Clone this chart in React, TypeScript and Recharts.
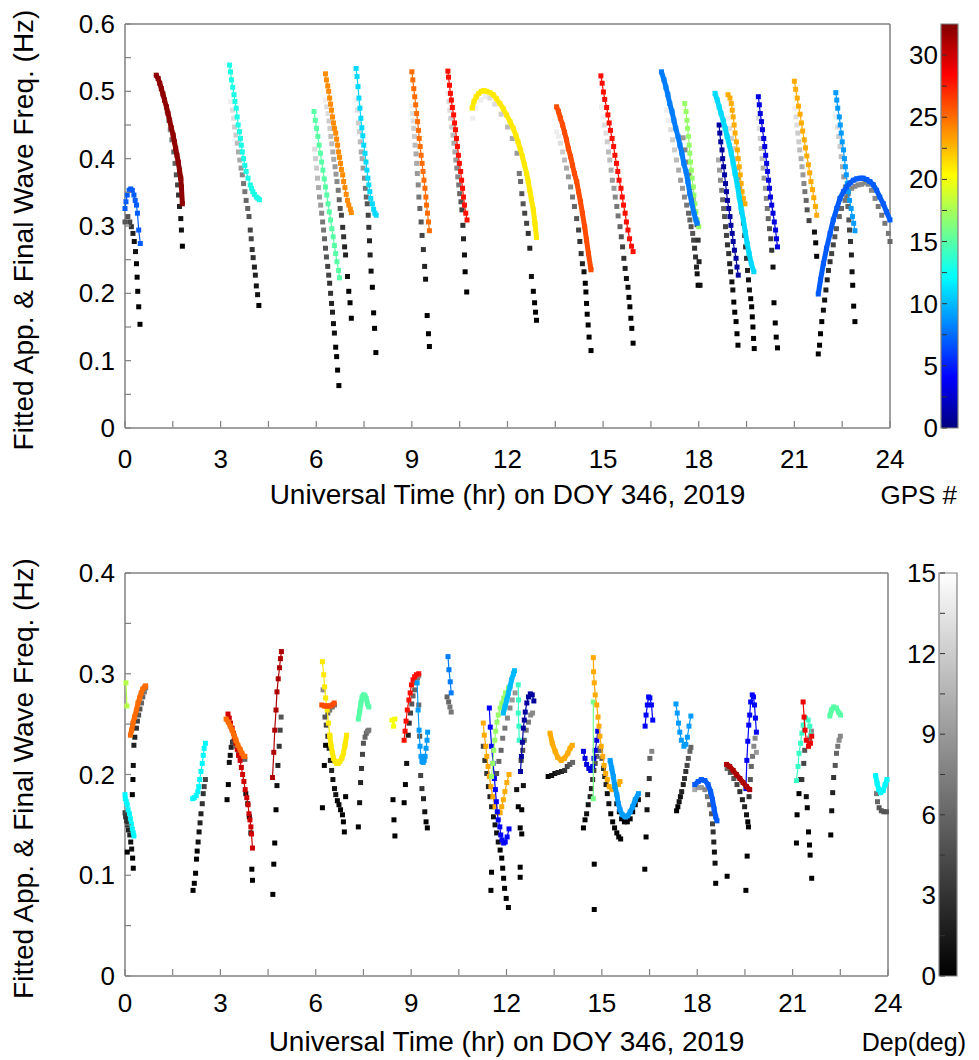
import React from 'react'
import { ScatterChart, Scatter, XAxis, YAxis, ComposedChart, ReferenceArea, Label } from 'recharts'

const FONT = '"Liberation Sans", Arial, Helvetica, sans-serif'
const FRAME = '#808080'
const GPS_MAX = 32.5
const DEP_MAX = 15

type Pt = [number, number]
type GPt = [number, number, number]
type Track = { gps: number; pts: Pt[] }

// axis ticks
const xTicks = [0, 1.5, 3, 4.5, 6, 7.5, 9, 10.5, 12, 13.5, 15, 16.5, 18, 19.5, 21, 22.5, 24]
const xLabels = [0, 3, 6, 9, 12, 15, 18, 21, 24]
const topYTicks = [0, 0.05, 0.1, 0.15, 0.2, 0.25, 0.3, 0.35, 0.4, 0.45, 0.5, 0.55, 0.6]
const topYLabels = [0, 0.1, 0.2, 0.3, 0.4, 0.5, 0.6]
const bottomYTicks = [0, 0.05, 0.1, 0.15, 0.2, 0.25, 0.3, 0.35, 0.4]
const bottomYLabels = [0, 0.1, 0.2, 0.3, 0.4]
const gpsTicks = [0, 2.5, 5, 7.5, 10, 12.5, 15, 17.5, 20, 22.5, 25, 27.5, 30]
const gpsLabels = [0, 5, 10, 15, 20, 25, 30]
const depTicks = [0, 1.5, 3, 4.5, 6, 7.5, 9, 10.5, 12, 13.5, 15]
const depLabels = [0, 3, 6, 9, 12, 15]

// ---- top panel: tracks coloured by GPS #, [hr, Hz]
const topSparse: Track[] = [
  { gps: 7, pts: [[0.00,0.326],[0.03,0.336],[0.07,0.346],[0.13,0.353],[0.18,0.355],[0.23,0.353],[0.28,0.346],[0.32,0.338],[0.36,0.331],[0.39,0.319],[0.43,0.294],[0.48,0.274]] },
  { gps: 13, pts: [[3.28,0.539],[3.31,0.529],[3.34,0.517],[3.38,0.506],[3.42,0.495],[3.45,0.485],[3.49,0.475],[3.52,0.462],[3.55,0.450],[3.59,0.440],[3.62,0.430],[3.65,0.420],[3.68,0.410],[3.72,0.400],[3.76,0.390],[3.80,0.381],[3.86,0.371],[3.93,0.361],[3.97,0.356],[4.01,0.351],[4.06,0.347],[4.12,0.343],[4.17,0.341],[4.22,0.339]] },
  { gps: 15, pts: [[5.93,0.470],[5.97,0.457],[6.01,0.445],[6.05,0.433],[6.09,0.420],[6.13,0.408],[6.17,0.395],[6.21,0.383],[6.25,0.370],[6.29,0.358],[6.33,0.346],[6.37,0.333],[6.41,0.321],[6.45,0.309],[6.49,0.296],[6.53,0.284],[6.57,0.271],[6.61,0.259],[6.65,0.247],[6.70,0.234],[6.73,0.223]] },
  { gps: 24, pts: [[6.29,0.526],[6.32,0.517],[6.36,0.508],[6.39,0.500],[6.42,0.490],[6.45,0.481],[6.48,0.472],[6.51,0.462],[6.54,0.453],[6.57,0.445],[6.61,0.438],[6.64,0.429],[6.67,0.420],[6.70,0.410],[6.73,0.402],[6.76,0.393],[6.79,0.384],[6.83,0.376],[6.86,0.366],[6.90,0.357],[6.94,0.347],[6.98,0.338],[7.02,0.331],[7.07,0.325],[7.10,0.320]] },
  { gps: 11, pts: [[7.25,0.534],[7.28,0.522],[7.31,0.507],[7.34,0.490],[7.37,0.475],[7.40,0.460],[7.43,0.446],[7.46,0.434],[7.49,0.420],[7.53,0.408],[7.56,0.395],[7.59,0.383],[7.62,0.371],[7.65,0.361],[7.68,0.351],[7.71,0.341],[7.76,0.333],[7.80,0.325],[7.84,0.319],[7.88,0.316]] },
  { gps: 25, pts: [[9.00,0.529],[9.03,0.517],[9.06,0.504],[9.09,0.492],[9.12,0.480],[9.15,0.467],[9.18,0.455],[9.21,0.442],[9.23,0.430],[9.26,0.418],[9.29,0.405],[9.32,0.393],[9.35,0.381],[9.38,0.368],[9.41,0.356],[9.44,0.343],[9.46,0.331],[9.49,0.319],[9.52,0.306],[9.55,0.293]] },
  { gps: 28, pts: [[10.13,0.530],[10.15,0.521],[10.18,0.509],[10.21,0.497],[10.24,0.487],[10.27,0.476],[10.31,0.465],[10.34,0.453],[10.37,0.443],[10.40,0.430],[10.43,0.418],[10.46,0.405],[10.49,0.393],[10.53,0.381],[10.56,0.368],[10.59,0.356],[10.62,0.343],[10.65,0.331],[10.69,0.319],[10.73,0.309]] },
  { gps: 28, pts: [[14.93,0.523],[14.97,0.512],[15.01,0.499],[15.05,0.488],[15.11,0.476],[15.15,0.465],[15.19,0.453],[15.23,0.442],[15.28,0.430],[15.33,0.418],[15.37,0.405],[15.42,0.393],[15.46,0.381],[15.50,0.368],[15.56,0.356],[15.60,0.343],[15.64,0.331],[15.69,0.319],[15.73,0.306],[15.78,0.294],[15.83,0.281],[15.89,0.270],[15.94,0.262]] },
  { gps: 17, pts: [[17.56,0.482],[17.60,0.470],[17.63,0.457],[17.65,0.445],[17.68,0.433],[17.70,0.420],[17.72,0.408],[17.74,0.395],[17.77,0.383],[17.79,0.371],[17.83,0.358],[17.85,0.346],[17.88,0.333],[17.91,0.321],[17.95,0.309],[18.00,0.299]] },
  { gps: 1, pts: [[18.64,0.450],[18.66,0.438],[18.69,0.425],[18.73,0.413],[18.75,0.400],[18.78,0.388],[18.81,0.376],[18.84,0.363],[18.87,0.351],[18.90,0.338],[18.94,0.326],[18.98,0.314],[19.01,0.301],[19.05,0.289],[19.08,0.277],[19.12,0.264],[19.17,0.252],[19.20,0.239],[19.24,0.227]] },
  { gps: 23, pts: [[18.92,0.495],[18.98,0.490],[19.02,0.482],[19.05,0.472],[19.08,0.462],[19.11,0.450],[19.14,0.438],[19.18,0.425],[19.21,0.413],[19.24,0.400],[19.27,0.388],[19.30,0.376],[19.33,0.363],[19.36,0.351],[19.40,0.341],[19.45,0.333]] },
  { gps: 3, pts: [[19.87,0.492],[19.90,0.480],[19.93,0.467],[19.97,0.455],[20.00,0.443],[20.04,0.430],[20.07,0.418],[20.10,0.405],[20.13,0.393],[20.16,0.381],[20.19,0.368],[20.22,0.356],[20.25,0.343],[20.29,0.331],[20.33,0.319],[20.37,0.306],[20.41,0.294],[20.44,0.281],[20.47,0.269]] },
  { gps: 23, pts: [[21.00,0.515],[21.04,0.503],[21.09,0.490],[21.13,0.478],[21.18,0.466],[21.22,0.453],[21.26,0.441],[21.31,0.428],[21.35,0.416],[21.39,0.404],[21.44,0.391],[21.48,0.379],[21.52,0.366],[21.57,0.354],[21.61,0.342],[21.66,0.329],[21.70,0.316]] },
  { gps: 9, pts: [[22.30,0.498],[22.33,0.487],[22.36,0.475],[22.41,0.462],[22.44,0.450],[22.47,0.438],[22.50,0.425],[22.54,0.413],[22.57,0.400],[22.60,0.388],[22.63,0.376],[22.66,0.363],[22.69,0.351],[22.73,0.338],[22.78,0.326],[22.82,0.314],[22.86,0.304],[22.90,0.293]] },
]

const topDense: Track[] = [
  { gps: 32, pts: [[0.98,0.524],[1.04,0.519],[1.09,0.512],[1.14,0.504],[1.19,0.496],[1.24,0.487],[1.30,0.477],[1.35,0.467],[1.40,0.457],[1.45,0.446],[1.51,0.435],[1.55,0.425],[1.59,0.415],[1.63,0.405],[1.67,0.395],[1.71,0.383],[1.75,0.371],[1.77,0.358],[1.80,0.333]] },
  { gps: 21, pts: [[10.89,0.475],[10.95,0.485],[11.02,0.492],[11.10,0.497],[11.18,0.500],[11.26,0.501],[11.34,0.500],[11.45,0.498],[11.55,0.495],[11.65,0.489],[11.76,0.482],[11.87,0.474],[11.97,0.465],[12.08,0.455],[12.18,0.445],[12.26,0.435],[12.33,0.425],[12.40,0.414],[12.47,0.403],[12.53,0.391],[12.60,0.378],[12.65,0.366],[12.70,0.353],[12.75,0.339],[12.81,0.324],[12.86,0.304],[12.91,0.283]] },
  { gps: 26, pts: [[13.54,0.477],[13.60,0.470],[13.66,0.460],[13.73,0.450],[13.79,0.439],[13.85,0.428],[13.91,0.415],[13.98,0.403],[14.04,0.390],[14.10,0.378],[14.17,0.366],[14.23,0.351],[14.29,0.336],[14.35,0.319],[14.42,0.299],[14.48,0.279],[14.54,0.259],[14.62,0.235]] },
  { gps: 8, pts: [[16.83,0.529],[16.91,0.517],[16.97,0.506],[17.03,0.495],[17.09,0.482],[17.16,0.470],[17.22,0.457],[17.28,0.445],[17.35,0.433],[17.41,0.420],[17.47,0.408],[17.53,0.393],[17.60,0.381],[17.66,0.366],[17.72,0.348],[17.78,0.334],[17.85,0.319],[17.91,0.309],[17.95,0.304]] },
  { gps: 11, pts: [[18.51,0.497],[18.58,0.487],[18.64,0.477],[18.70,0.467],[18.77,0.456],[18.83,0.445],[18.89,0.433],[18.96,0.420],[19.02,0.408],[19.08,0.393],[19.14,0.378],[19.21,0.361],[19.27,0.343],[19.33,0.326],[19.40,0.309],[19.46,0.291],[19.52,0.274],[19.58,0.259],[19.65,0.244],[19.73,0.232]] },
  { gps: 7, pts: [[21.75,0.199],[21.82,0.220],[21.91,0.244],[22.01,0.267],[22.12,0.289],[22.22,0.309],[22.33,0.326],[22.43,0.341],[22.54,0.351],[22.64,0.358],[22.75,0.364],[22.85,0.368],[22.95,0.370],[23.06,0.371],[23.16,0.371],[23.27,0.369],[23.37,0.366],[23.48,0.361],[23.58,0.353],[23.68,0.343],[23.79,0.333],[23.89,0.321],[24.00,0.309]] },
]

// grey tracks: [hr, Hz, shade 0..15]
const topGray: GPt[][] = [
  [[0.00,0.306,5],[0.09,0.314,5],[0.15,0.306,4],[0.20,0.299,3],[0.25,0.289,2],[0.29,0.277,1],[0.33,0.262,1],[0.36,0.244,0],[0.38,0.224,0],[0.40,0.203,0],[0.43,0.180,0],[0.47,0.154,0]],
  [[1.14,0.504,12],[1.24,0.487,11],[1.32,0.470,10],[1.37,0.457,9],[1.42,0.443,8],[1.47,0.428,7],[1.53,0.410,6],[1.57,0.393,6],[1.61,0.376,5],[1.65,0.361,4],[1.68,0.346,3],[1.71,0.329,2],[1.75,0.311,1],[1.77,0.294,1],[1.80,0.270,0]],
  [[3.31,0.485,14],[3.37,0.472,13],[3.41,0.460,13],[3.44,0.447,12],[3.48,0.435,12],[3.52,0.423,11],[3.56,0.410,10],[3.60,0.398,10],[3.64,0.386,9],[3.68,0.376,8],[3.72,0.363,7],[3.76,0.351,7],[3.80,0.338,6],[3.85,0.326,6],[3.89,0.314,5],[3.93,0.294,4],[3.96,0.281,4],[3.99,0.265,3],[4.02,0.253,3],[4.06,0.239,2],[4.09,0.227,2],[4.12,0.211,1],[4.16,0.198,1],[4.20,0.182,0]],
  [[5.95,0.414,13],[5.98,0.400,12],[6.01,0.386,12],[6.04,0.371,11],[6.07,0.357,10],[6.10,0.343,9],[6.14,0.331,9],[6.17,0.319,8],[6.20,0.306,7],[6.23,0.294,7],[6.26,0.281,6],[6.29,0.267,5],[6.32,0.254,5],[6.36,0.240,4],[6.39,0.227,4],[6.42,0.215,3],[6.45,0.200,3],[6.48,0.185,2],[6.51,0.172,2],[6.54,0.155,1],[6.57,0.141,1],[6.61,0.120,0],[6.64,0.106,0],[6.67,0.086,0],[6.71,0.063,0]],
  [[6.29,0.487,14],[6.33,0.477,13],[6.37,0.467,13],[6.40,0.456,12],[6.43,0.445,12],[6.46,0.433,11],[6.49,0.422,11],[6.52,0.410,10],[6.55,0.399,10],[6.59,0.388,9],[6.62,0.377,9],[6.65,0.366,8],[6.69,0.353,7],[6.72,0.339,6],[6.75,0.326,5],[6.79,0.316,4],[6.83,0.298,3],[6.86,0.284,3],[6.89,0.269,2],[6.92,0.257,2],[6.98,0.225,1],[7.02,0.203,0],[7.06,0.186,0],[7.10,0.163,0]],
  [[7.25,0.487,14],[7.29,0.472,13],[7.32,0.453,12],[7.35,0.440,12],[7.38,0.425,11],[7.41,0.410,10],[7.44,0.400,10],[7.47,0.386,9],[7.51,0.371,8],[7.54,0.356,7],[7.57,0.343,6],[7.60,0.333,5],[7.63,0.316,4],[7.65,0.298,3],[7.67,0.278,2],[7.69,0.257,2],[7.72,0.233,1],[7.76,0.209,0],[7.80,0.171,0],[7.83,0.148,0],[7.87,0.112,0]],
  [[9.00,0.478,14],[9.02,0.467,13],[9.04,0.456,13],[9.06,0.445,12],[9.08,0.433,12],[9.10,0.420,11],[9.13,0.407,10],[9.15,0.393,10],[9.17,0.378,9],[9.20,0.361,8],[9.22,0.343,7],[9.25,0.326,6],[9.29,0.306,5],[9.32,0.286,4],[9.36,0.265,3],[9.40,0.240,2],[9.43,0.221,1],[9.48,0.167,0],[9.52,0.140,0],[9.55,0.121,0]],
  [[10.13,0.497,14],[10.16,0.485,13],[10.19,0.472,13],[10.22,0.460,12],[10.25,0.447,12],[10.29,0.435,11],[10.32,0.423,10],[10.35,0.410,10],[10.38,0.398,9],[10.41,0.386,8],[10.44,0.373,8],[10.47,0.361,7],[10.50,0.348,6],[10.54,0.336,5],[10.57,0.324,4],[10.60,0.301,3],[10.62,0.281,2],[10.65,0.257,1],[10.67,0.232,0],[10.72,0.202,0]],
  [[10.91,0.460,14],[11.00,0.475,14],[11.15,0.487,14],[11.30,0.492,14],[11.45,0.490,13],[11.60,0.481,13],[11.80,0.466,12],[12.00,0.447,11],[12.15,0.430,10],[12.30,0.408,9],[12.37,0.378,7],[12.41,0.366,6],[12.45,0.348,5],[12.49,0.333,5],[12.54,0.319,4],[12.60,0.304,4],[12.65,0.289,3],[12.70,0.267,2],[12.75,0.225,1],[12.81,0.203,0],[12.85,0.186,0],[12.88,0.172,0],[12.91,0.160,0]],
  [[13.54,0.440,14],[13.60,0.433,14],[13.66,0.423,13],[13.73,0.410,12],[13.79,0.398,11],[13.85,0.386,10],[13.91,0.373,9],[13.98,0.358,8],[14.04,0.343,7],[14.10,0.329,6],[14.17,0.311,5],[14.23,0.294,4],[14.27,0.277,3],[14.31,0.259,3],[14.35,0.244,2],[14.40,0.232,1],[14.44,0.215,0],[14.46,0.202,0],[14.48,0.185,0],[14.50,0.169,0],[14.53,0.153,0],[14.56,0.135,0],[14.62,0.115,0]],
  [[14.95,0.477,14],[15.00,0.462,14],[15.04,0.450,13],[15.09,0.438,13],[15.13,0.425,12],[15.17,0.410,11],[15.21,0.398,11],[15.25,0.383,10],[15.29,0.368,9],[15.34,0.356,9],[15.38,0.343,8],[15.43,0.329,7],[15.47,0.315,7],[15.53,0.299,6],[15.57,0.284,5],[15.61,0.269,4],[15.65,0.252,3],[15.69,0.237,2],[15.73,0.222,1],[15.78,0.209,1],[15.81,0.194,0],[15.84,0.180,0],[15.87,0.163,0],[15.90,0.148,0],[15.94,0.126,0]],
  [[16.99,0.472,14],[17.05,0.457,14],[17.12,0.443,13],[17.18,0.428,12],[17.24,0.413,12],[17.30,0.398,11],[17.37,0.383,10],[17.43,0.368,9],[17.49,0.356,9],[17.55,0.343,8],[17.62,0.331,7],[17.68,0.319,6],[17.72,0.309,6],[17.76,0.299,5],[17.81,0.289,5],[17.84,0.279,4],[17.87,0.267,3],[17.90,0.254,3],[17.93,0.239,2],[17.95,0.229,1],[17.98,0.212,0]],
  [[17.51,0.431,9],[17.57,0.413,8],[17.63,0.395,8],[17.69,0.376,7],[17.76,0.357,7],[17.82,0.339,6],[17.88,0.321,5],[17.95,0.302,4],[17.98,0.279,3],[18.01,0.247,2],[18.04,0.212,1]],
  [[18.62,0.398,10],[18.65,0.383,9],[18.68,0.368,8],[18.72,0.353,7],[18.75,0.339,6],[18.78,0.326,6],[18.81,0.314,5],[18.84,0.299,4],[18.87,0.286,4],[18.90,0.272,3],[18.94,0.259,3],[18.97,0.244,2],[19.00,0.232,2],[19.04,0.217,1],[19.07,0.205,1],[19.10,0.187,0],[19.13,0.172,0],[19.17,0.158,0],[19.20,0.140,0],[19.23,0.123,0]],
  [[18.92,0.460,14],[18.97,0.445,13],[19.03,0.430,12],[19.08,0.415,12],[19.13,0.400,11],[19.19,0.386,10],[19.23,0.371,9],[19.27,0.356,8],[19.31,0.338,7],[19.35,0.321,6],[19.40,0.304,5],[19.44,0.286,4],[19.47,0.269,3],[19.50,0.252,3],[19.53,0.234,2],[19.56,0.220,1],[19.59,0.205,1],[19.63,0.192,0],[19.66,0.180,0],[19.68,0.165,0],[19.70,0.150,0],[19.72,0.133,0],[19.74,0.118,0]],
  [[19.87,0.460,13],[19.90,0.445,13],[19.93,0.430,12],[19.96,0.415,11],[19.99,0.400,11],[20.02,0.386,10],[20.05,0.371,9],[20.09,0.356,9],[20.12,0.341,8],[20.15,0.326,7],[20.18,0.311,6],[20.22,0.296,5],[20.26,0.281,4],[20.29,0.264,3],[20.33,0.239,1],[20.36,0.186,0],[20.40,0.156,0],[20.43,0.135,0],[20.47,0.119,0]],
  [[21.02,0.475,14],[21.05,0.462,13],[21.08,0.450,13],[21.11,0.438,12],[21.14,0.425,12],[21.17,0.413,11],[21.21,0.400,10],[21.24,0.388,10],[21.27,0.376,9],[21.30,0.363,8],[21.33,0.351,7],[21.37,0.338,6],[21.40,0.324,5],[21.46,0.308,4],[21.63,0.291,1],[21.67,0.275,0],[21.70,0.255,0]],
  [[22.30,0.462,14],[22.35,0.447,13],[22.39,0.433,12],[22.43,0.418,12],[22.47,0.403,11],[22.51,0.388,10],[22.55,0.373,9],[22.60,0.358,8],[22.64,0.343,7],[22.68,0.329,6],[22.71,0.309,5],[22.73,0.294,4],[22.76,0.277,3],[22.79,0.257,2],[22.81,0.232,1],[22.83,0.212,0],[22.86,0.181,0],[22.90,0.158,0]],
  [[21.75,0.110,0],[21.79,0.123,0],[21.82,0.140,0],[21.86,0.158,0],[21.91,0.175,1],[21.95,0.190,1],[21.99,0.205,2],[22.03,0.220,2],[22.07,0.234,3],[22.12,0.247,3],[22.17,0.259,4],[22.22,0.272,4],[22.27,0.284,5],[22.32,0.296,5],[22.41,0.314,6],[22.48,0.326,6],[22.59,0.338,7],[22.69,0.348,7],[22.80,0.356,8],[22.90,0.359,8],[23.00,0.361,8],[23.11,0.362,8],[23.21,0.364,8],[23.32,0.362,8],[23.42,0.353,8],[23.53,0.341,8],[23.63,0.329,7],[23.74,0.316,7],[23.84,0.304,7],[23.95,0.289,7],[24.00,0.277,6]],
]

// ---- bottom panel
const bottomSparse: Track[] = [
  { gps: 18, pts: [[0.03,0.291],[0.06,0.268]] },
  { gps: 12, pts: [[0.00,0.180],[0.01,0.176],[0.04,0.173],[0.07,0.170],[0.10,0.165],[0.14,0.161],[0.17,0.156],[0.20,0.151],[0.23,0.146],[0.26,0.142],[0.28,0.139]] },
  { gps: 12, pts: [[2.13,0.176],[2.18,0.177],[2.24,0.179],[2.29,0.183],[2.32,0.188],[2.35,0.195],[2.39,0.203],[2.43,0.211],[2.46,0.219],[2.49,0.226],[2.53,0.231]] },
  { gps: 30, pts: [[3.24,0.260],[3.28,0.256],[3.32,0.251],[3.37,0.246],[3.41,0.241],[3.45,0.236],[3.49,0.231],[3.53,0.225],[3.57,0.219],[3.62,0.214],[3.66,0.207],[3.70,0.200],[3.74,0.193],[3.78,0.185],[3.83,0.177],[3.87,0.170],[3.90,0.161],[3.93,0.155],[3.96,0.148],[3.98,0.141],[4.01,0.127]] },
  { gps: 31, pts: [[4.64,0.197],[4.68,0.222],[4.71,0.244],[4.75,0.264],[4.78,0.282],[4.82,0.295],[4.86,0.306],[4.89,0.315],[4.92,0.322]] },
  { gps: 21, pts: [[6.21,0.312],[6.25,0.299],[6.28,0.287],[6.31,0.276],[6.36,0.264],[6.40,0.251],[6.44,0.239]] },
  { gps: 20, pts: [[8.40,0.254],[8.45,0.248],[8.49,0.255]] },
  { gps: 28, pts: [[8.78,0.234],[8.81,0.243],[8.84,0.253],[8.88,0.264],[8.93,0.274],[8.97,0.281],[9.01,0.289],[9.06,0.294],[9.11,0.297],[9.17,0.299],[9.24,0.300]] },
  { gps: 9, pts: [[9.19,0.291],[9.22,0.264],[9.25,0.244],[9.28,0.228],[9.31,0.218],[9.34,0.213],[9.38,0.212],[9.41,0.214],[9.44,0.218],[9.47,0.226],[9.50,0.234],[9.52,0.242]] },
  { gps: 8, pts: [[10.16,0.317],[10.19,0.304],[10.23,0.292],[10.26,0.281]] },
  { gps: 23, pts: [[11.27,0.251],[11.30,0.239],[11.35,0.228],[11.38,0.218],[11.42,0.208],[11.46,0.198],[11.51,0.188],[11.57,0.178],[11.64,0.168],[11.72,0.162],[11.80,0.162],[11.85,0.168],[11.90,0.175],[11.95,0.183],[12.01,0.192],[12.08,0.200]] },
  { gps: 4, pts: [[11.46,0.266],[11.49,0.247],[11.53,0.228],[11.58,0.211],[11.62,0.196],[11.65,0.185],[11.68,0.173],[11.71,0.163],[11.74,0.155],[11.79,0.148],[11.82,0.140],[11.86,0.135],[11.91,0.132],[11.96,0.133],[12.02,0.138],[12.08,0.146]] },
  { gps: 17, pts: [[11.53,0.198],[11.57,0.211],[11.60,0.224],[11.63,0.234],[11.66,0.243],[11.70,0.252],[11.74,0.259],[11.80,0.266],[11.85,0.271],[11.91,0.276],[11.97,0.281],[12.06,0.286]] },
  { gps: 14, pts: [[12.37,0.289],[12.38,0.274],[12.37,0.261],[12.39,0.248],[12.40,0.234]] },
  { gps: 1, pts: [[12.44,0.203],[12.47,0.218],[12.50,0.232],[12.53,0.246],[12.56,0.254],[12.59,0.262],[12.64,0.271],[12.69,0.277],[12.75,0.280],[12.81,0.279],[12.86,0.273]] },
  { gps: 3, pts: [[14.42,0.223],[14.47,0.216],[14.52,0.210],[14.59,0.206],[14.65,0.204],[14.71,0.208],[14.75,0.216],[14.79,0.224],[14.84,0.234],[14.87,0.243]] },
  { gps: 16, pts: [[14.73,0.272],[14.73,0.176]] },
  { gps: 23, pts: [[14.73,0.316],[14.74,0.302],[14.76,0.291],[14.79,0.279],[14.84,0.269],[14.88,0.257],[14.91,0.248],[14.94,0.238],[14.98,0.228],[15.03,0.218],[15.07,0.209],[15.12,0.201],[15.17,0.195],[15.23,0.188],[15.31,0.185],[15.41,0.186],[15.52,0.190],[15.57,0.193]] },
  { gps: 4, pts: [[16.36,0.248],[16.39,0.259],[16.43,0.269],[16.47,0.277],[16.51,0.276],[16.56,0.269],[16.60,0.254]] },
  { gps: 9, pts: [[17.33,0.270],[17.37,0.261],[17.41,0.251],[17.45,0.242],[17.50,0.234],[17.58,0.228],[17.64,0.230],[17.69,0.237],[17.74,0.248],[17.80,0.258]] },
  { gps: 4, pts: [[19.53,0.186],[19.56,0.214],[19.59,0.233],[19.62,0.249],[19.65,0.259],[19.68,0.272],[19.73,0.279],[19.77,0.277],[19.80,0.269],[19.83,0.256],[19.86,0.242]] },
  { gps: 14, pts: [[21.12,0.194],[21.17,0.208],[21.20,0.221],[21.25,0.231],[21.29,0.241],[21.33,0.249],[21.41,0.256],[21.49,0.254],[21.54,0.248],[21.57,0.239]] },
  { gps: 29, pts: [[21.33,0.272],[21.36,0.257],[21.39,0.244],[21.43,0.234],[21.50,0.228],[21.56,0.231],[21.60,0.238]] },
]

const bottomDense: Track[] = [
  { gps: 25, pts: [[0.17,0.239],[0.21,0.244],[0.25,0.251],[0.30,0.257],[0.36,0.264],[0.41,0.271],[0.46,0.276],[0.51,0.281],[0.56,0.285],[0.62,0.287],[0.65,0.288]] },
  { gps: 25, pts: [[3.18,0.255],[3.25,0.252],[3.31,0.248],[3.37,0.244],[3.43,0.239],[3.49,0.234],[3.55,0.229],[3.62,0.225],[3.68,0.221],[3.74,0.218],[3.77,0.218]] },
  { gps: 21, pts: [[6.44,0.239],[6.48,0.229],[6.52,0.222],[6.56,0.216],[6.61,0.213],[6.66,0.211],[6.71,0.211],[6.76,0.213],[6.82,0.216],[6.87,0.221],[6.92,0.229],[6.97,0.239]] },
  { gps: 26, pts: [[6.19,0.269],[6.27,0.268],[6.36,0.268],[6.44,0.268],[6.52,0.269],[6.58,0.271]] },
  { gps: 15, pts: [[7.34,0.255],[7.38,0.262],[7.42,0.271],[7.46,0.277],[7.50,0.279],[7.55,0.278],[7.59,0.275],[7.63,0.270],[7.67,0.267]] },
  { gps: 10, pts: [[11.90,0.261],[11.95,0.267],[12.01,0.274],[12.06,0.281],[12.11,0.287],[12.16,0.294],[12.22,0.300],[12.25,0.303]] },
  { gps: 23, pts: [[13.37,0.241],[13.44,0.231],[13.53,0.223],[13.61,0.217],[13.72,0.214],[13.82,0.216],[13.93,0.221],[14.00,0.226],[14.07,0.229]] },
  { gps: 9, pts: [[15.26,0.214],[15.31,0.206],[15.36,0.198],[15.41,0.188],[15.47,0.180],[15.52,0.171],[15.57,0.165],[15.64,0.160],[15.73,0.158],[15.81,0.159],[15.89,0.163],[15.97,0.168],[16.05,0.175],[16.15,0.181]] },
  { gps: 7, pts: [[17.92,0.190],[18.03,0.193],[18.13,0.195],[18.24,0.194],[18.34,0.190],[18.42,0.183],[18.48,0.175],[18.53,0.166],[18.58,0.158],[18.62,0.154]] },
  { gps: 31, pts: [[18.92,0.210],[19.02,0.208],[19.13,0.204],[19.23,0.200],[19.34,0.196],[19.44,0.192],[19.55,0.188],[19.65,0.185]] },
  { gps: 15, pts: [[22.17,0.258],[22.22,0.264],[22.29,0.267],[22.38,0.266],[22.46,0.261],[22.51,0.259]] },
  { gps: 12, pts: [[23.61,0.199],[23.66,0.191],[23.71,0.185],[23.77,0.182],[23.85,0.184],[23.91,0.190],[23.97,0.195]] },
]

// grey points shaded by depression angle (deg)
const bottomGray: GPt[][] = [
  [[0.00,0.162,4],[0.02,0.158,3],[0.05,0.154,3],[0.08,0.150,3],[0.11,0.145,2],[0.15,0.140,2],[0.18,0.133,1],[0.21,0.126,1],[0.24,0.117,0],[0.26,0.107,0],[0.07,0.123,0]],
  [[0.23,0.180,0],[0.25,0.195,0],[0.26,0.209,1],[0.28,0.229,2],[0.31,0.237,2],[0.36,0.246,3],[0.39,0.253,4],[0.43,0.259,5],[0.47,0.265,5],[0.52,0.271,6],[0.56,0.277,6],[0.61,0.282,7],[0.65,0.286,7]],
  [[2.14,0.085,0],[2.18,0.092,0],[2.22,0.102,0],[2.25,0.116,0],[2.27,0.124,0],[2.30,0.133,1],[2.33,0.143,1],[2.36,0.152,2],[2.39,0.161,2],[2.43,0.171,3],[2.46,0.181,3],[2.49,0.188,4],[2.53,0.195,4]],
  [[3.21,0.175,0],[3.25,0.190,0],[3.28,0.212,1],[3.31,0.219,1],[3.34,0.227,2],[3.38,0.232,3],[3.42,0.233,4],[3.46,0.231,5],[3.51,0.228,6],[3.56,0.224,6],[3.62,0.222,7],[3.68,0.218,7],[3.73,0.216,7],[3.77,0.215,6],[3.80,0.181,1],[3.86,0.171,1],[3.91,0.158,0],[3.96,0.142,0],[3.99,0.106,0],[4.01,0.095,0]],
  [[4.65,0.081,0],[4.68,0.111,0],[4.71,0.132,0],[4.75,0.165,0],[4.78,0.189,1],[4.81,0.209,2],[4.85,0.228,3],[4.88,0.244,4],[4.91,0.257,5]],
  [[6.23,0.284,8],[6.38,0.261,6],[6.44,0.264,7],[6.52,0.267,7],[6.59,0.269,7]],
  [[6.29,0.257,5],[6.33,0.249,4],[6.38,0.238,3],[6.42,0.226,3],[6.46,0.214,2],[6.50,0.204,2],[6.54,0.195,1],[6.59,0.186,1],[6.63,0.180,1],[6.68,0.174,0],[6.73,0.170,0],[6.78,0.165,0],[6.84,0.160,0],[6.87,0.153,0],[6.90,0.143,0]],
  [[6.21,0.167,0],[6.27,0.209,0],[6.31,0.229,0],[6.94,0.178,0]],
  [[7.34,0.148,0],[7.38,0.172,1],[7.41,0.192,2],[7.44,0.206,3],[7.47,0.220,4],[7.50,0.231,5],[7.55,0.237,6],[7.59,0.241,6],[7.63,0.243,7],[7.67,0.244,7]],
  [[8.43,0.175,0],[8.46,0.155,0],[8.49,0.139,0]],
  [[8.78,0.172,0],[8.82,0.190,0],[8.86,0.211,1],[8.91,0.239,2],[8.94,0.251,3],[8.98,0.261,4],[9.02,0.270,5],[9.06,0.278,6],[9.11,0.284,6],[9.16,0.291,7],[9.20,0.296,7],[9.24,0.298,8]],
  [[9.24,0.269,6],[9.27,0.238,5],[9.30,0.199,4],[9.34,0.186,3],[9.39,0.176,2],[9.43,0.163,1],[9.47,0.153,0],[9.51,0.147,0]],
  [[10.13,0.277,6],[10.18,0.272,6],[10.22,0.267,7],[10.26,0.262,7]],
  [[11.27,0.228,4],[11.32,0.214,3],[11.38,0.201,3],[11.43,0.188,2],[11.48,0.178,2],[11.53,0.168,2],[11.59,0.158,1],[11.64,0.150,1],[11.69,0.142,1],[11.74,0.133,1],[11.80,0.125,0],[11.85,0.117,0],[11.88,0.107,0],[11.91,0.097,0],[11.94,0.087,0],[11.99,0.077,0],[12.06,0.068,0]],
  [[11.69,0.201,5],[11.76,0.213,6],[11.83,0.224,6],[11.88,0.236,7],[11.95,0.246,7],[12.03,0.256,8],[12.11,0.266,8],[12.18,0.274,9],[12.27,0.281,9]],
  [[12.46,0.214,4],[12.51,0.224,5],[12.56,0.234,6],[12.62,0.244,7],[12.69,0.252,7],[12.76,0.259,8],[12.82,0.261,8]],
  [[11.53,0.103,0],[11.51,0.085,0],[12.43,0.108,0],[12.43,0.098,0],[12.32,0.185,1],[12.53,0.189,1],[12.37,0.168,0],[12.48,0.165,0],[12.43,0.147,0],[12.48,0.141,0]],
  [[13.31,0.198,0],[13.42,0.199,1],[13.52,0.201,1],[13.62,0.202,2],[13.73,0.203,2],[13.83,0.204,3],[13.91,0.208,4],[13.99,0.210,5],[14.08,0.212,6]],
  [[14.42,0.147,0],[14.47,0.155,0],[14.52,0.161,1],[14.57,0.170,1],[14.63,0.178,2],[14.67,0.186,2],[14.71,0.195,3],[14.75,0.204,4],[14.79,0.211,5],[14.84,0.218,6],[14.89,0.224,7],[14.94,0.226,7]],
  [[14.76,0.111,0],[14.76,0.066,0]],
  [[14.96,0.224,6],[15.00,0.216,5],[15.05,0.206,3],[15.09,0.198,2],[15.13,0.190,2],[15.17,0.181,1],[15.22,0.171,1],[15.28,0.161,0],[15.34,0.153,0],[15.40,0.147,0],[15.47,0.142,0],[15.53,0.138,0],[15.59,0.136,0]],
  [[15.47,0.171,1],[15.55,0.163,0],[15.62,0.156,0],[15.71,0.153,0],[15.80,0.153,0],[15.89,0.156,0],[15.97,0.163,0],[16.05,0.170,1],[16.15,0.175,1]],
  [[16.57,0.223,8],[16.51,0.216,6],[16.49,0.196,3],[16.44,0.180,2],[16.42,0.165,1],[16.39,0.138,0],[16.35,0.106,0]],
  [[17.35,0.164,0],[17.39,0.168,0],[17.43,0.173,1],[17.47,0.178,1],[17.51,0.183,2],[17.56,0.190,2],[17.60,0.196,3],[17.64,0.203,3],[17.68,0.209,4],[17.72,0.216,5],[17.77,0.223,6],[17.80,0.227,6]],
  [[17.92,0.185,10],[18.03,0.187,9],[18.13,0.187,9],[18.24,0.185,8],[18.32,0.178,7],[18.39,0.170,6],[18.45,0.161,5],[18.48,0.151,4],[18.50,0.143,3],[18.52,0.133,2],[18.54,0.123,1],[18.56,0.112,1],[18.58,0.092,0],[18.94,0.099,0]],
  [[18.94,0.206,6],[19.04,0.202,5],[19.15,0.196,5],[19.25,0.190,4],[19.34,0.183,3],[19.42,0.175,2],[19.49,0.168,2],[19.55,0.160,1],[19.59,0.153,0],[19.61,0.148,0],[19.53,0.085,0],[19.57,0.119,0]],
  [[19.63,0.178,3],[19.67,0.195,5],[19.70,0.208,6],[19.74,0.218,7],[19.78,0.228,8],[19.82,0.236,8],[19.86,0.222,9]],
  [[21.12,0.132,0],[21.14,0.160,0],[21.20,0.181,0],[21.25,0.195,3],[21.29,0.195,3],[21.35,0.211,4],[21.38,0.224,5],[21.43,0.178,1],[21.46,0.167,0],[21.50,0.143,0],[21.53,0.130,0],[21.55,0.120,0],[21.60,0.097,0],[21.59,0.243,8],[21.54,0.236,7]],
  [[22.20,0.140,0],[22.23,0.164,1],[22.26,0.182,2],[22.29,0.197,3],[22.34,0.209,5],[22.38,0.221,6],[22.42,0.228,7],[22.46,0.234,8],[22.50,0.238,8]],
  [[23.64,0.181,7],[23.67,0.173,6],[23.72,0.167,5],[23.79,0.164,5],[23.87,0.163,5],[23.95,0.163,5]],
]

// ---- colour maps
const clamp = (v: number) => Math.max(0, Math.min(1, v))
const rgb = (r: number, g: number, b: number) =>
  `rgb(${Math.round(r * 255)},${Math.round(g * 255)},${Math.round(b * 255)})`
const jetAt = (v: number) =>
  rgb(
    clamp(Math.min(4 * v - 1.5, -4 * v + 4.5)),
    clamp(Math.min(4 * v - 0.5, -4 * v + 3.5)),
    clamp(Math.min(4 * v + 0.5, -4 * v + 2.5))
  )
const jet = (gps: number) => jetAt(gps / GPS_MAX)
const grayAt = (d: number) => rgb(d / DEP_MAX, d / DEP_MAX, d / DEP_MAX)

const jetStops = [0, 0.125, 0.375, 0.625, 0.875, 1].map(o => ({ o, c: jetAt(o) }))
const grayStops = [0, 1].map(o => ({ o, c: grayAt(o * DEP_MAX) }))

const has = (list: number[], v: number) => list.some(l => Math.abs(l - v) < 1e-9)
const fmtY = (v: number) => (v === 0 ? '0' : v.toFixed(1))

const square = (fill: string) => (p: any) =>
  <rect x={p.cx - 2.5} y={p.cy - 2.5} width={5} height={5} fill={fill} />
const graySquare = (p: any) =>
  <rect x={p.cx - 2.5} y={p.cy - 2.5} width={5} height={5} fill={grayAt(p.payload.d)} />

interface PanelProps {
  top: number
  height: number
  margin: { top: number; right: number; bottom: number; left: number }
  yMax: number
  yTicks: number[]
  yLabels: number[]
  sparse: Track[]
  dense: Track[]
  grays: GPt[][]
  tickDy: number
  titleDy: number
  sideLabel: string
  sideX: number
  sideSize: number
}

// axes are 1px thick so recharts still draws them; margins are one px smaller to compensate
const Panel = ({ top, height, margin, yMax, yTicks, yLabels, sparse, dense, grays, tickDy, titleDy, sideLabel, sideX, sideSize }: PanelProps) => {
  const bottomTick = ({ x, y, payload }: any) => (
    <g>
      <line x1={x} x2={x} y1={y - 1} y2={y - 7} stroke={FRAME} strokeWidth={1.2} />
      {has(xLabels, payload.value) && (
        <text x={x} y={y - 1 + tickDy} textAnchor="middle" fontSize={26} fontFamily={FONT} fill="#000">
          {payload.value}
        </text>
      )}
    </g>
  )
  const topTick = ({ x, y }: any) => <line x1={x} x2={x} y1={y + 1} y2={y + 7} stroke={FRAME} strokeWidth={1.2} />
  const leftTick = ({ x, y, payload }: any) => (
    <g>
      <line x1={x} x2={x + 6} y1={y} y2={y} stroke={FRAME} strokeWidth={1.2} />
      {has(yLabels, payload.value) && (
        <text x={x - 10} y={y + 9} textAnchor="end" fontSize={26} fontFamily={FONT} fill="#000">
          {fmtY(payload.value)}
        </text>
      )}
    </g>
  )
  const xTitle = ({ viewBox }: any) => (
    <g fontFamily={FONT} fill="#000">
      <text x={viewBox.x + viewBox.width / 2} y={viewBox.y + titleDy} textAnchor="middle" fontSize={28}>
        Universal Time (hr) on DOY 346, 2019
      </text>
      <text x={sideX} y={viewBox.y + titleDy} textAnchor="end" fontSize={sideSize}>{sideLabel}</text>
    </g>
  )
  const yTitle = ({ viewBox }: any) => {
    const cy = viewBox.y + viewBox.height / 2 + 4
    return (
      <text x={33} y={cy} transform={`rotate(-90, 33, ${cy})`} textAnchor="middle" fontSize={28} fontFamily={FONT} fill="#000">
        Fitted App. &amp; Final Wave Freq. (Hz)
      </text>
    )
  }

  return (
    <div style={{ position: 'absolute', left: 0, top }}>
      <ScatterChart width={979} height={height} margin={margin}>
        <XAxis type="number" dataKey="x" domain={[0, 24]} ticks={xTicks} interval={0} height={1}
          tickSize={0} tickMargin={0} tickLine={false} axisLine={{ stroke: FRAME, strokeWidth: 1.5 }} tick={bottomTick}>
          <Label content={xTitle} />
        </XAxis>
        <XAxis xAxisId="top" orientation="top" type="number" domain={[0, 24]} ticks={xTicks} interval={0} height={1}
          tickSize={0} tickMargin={0} tickLine={false} axisLine={{ stroke: FRAME, strokeWidth: 1.5 }} tick={topTick} />
        <YAxis type="number" dataKey="y" domain={[0, yMax]} ticks={yTicks} interval={0} width={1}
          tickSize={0} tickMargin={0} tickLine={false} axisLine={{ stroke: FRAME, strokeWidth: 1.5 }} tick={leftTick}>
          <Label content={yTitle} />
        </YAxis>
        <YAxis yAxisId="right" orientation="right" type="number" domain={[0, yMax]} width={1}
          tick={false} tickLine={false} axisLine={{ stroke: FRAME, strokeWidth: 1.5 }} />
        {grays.map((g, i) => (
          <Scatter key={`g${i}`} data={g.map(([x, y, d]) => ({ x, y, d }))} shape={graySquare} isAnimationActive={false} />
        ))}
        {sparse.map((t, i) => {
          const c = jet(t.gps)
          return (
            <Scatter key={`s${i}`} data={t.pts.map(([x, y]) => ({ x, y }))} fill={c} shape={square(c)}
              line={{ stroke: c, strokeWidth: 1.2 }} isAnimationActive={false} />
          )
        })}
        {dense.map((t, i) => {
          const c = jet(t.gps)
          return (
            <Scatter key={`d${i}`} data={t.pts.map(([x, y]) => ({ x, y }))} fill={c} shape={square(c)}
              line={{ stroke: c, strokeWidth: 5, strokeLinejoin: 'round' }} isAnimationActive={false} />
          )
        })}
      </ScatterChart>
    </div>
  )
}

interface BarProps {
  left: number
  top: number
  width: number
  height: number
  max: number
  ticks: number[]
  labels: number[]
  stops: { o: number; c: string }[]
  id: string
}

const ColorBar = ({ left, top, width, height, max, ticks, labels, stops, id }: BarProps) => {
  const ml = 50
  const mv = 24
  const barTick = ({ x, y, payload }: any) => (
    <g>
      <line x1={x + 1} x2={x + 6} y1={y} y2={y} stroke="#333" strokeWidth={1} />
      {has(labels, payload.value) && (
        <text x={x - 3} y={y + 9} textAnchor="end" fontSize={26} fontFamily={FONT} fill="#000">
          {payload.value}
        </text>
      )}
    </g>
  )
  return (
    <div style={{ position: 'absolute', left: left - ml, top: top - mv }}>
      <ComposedChart width={ml + width + 10} height={height + 2 * mv} margin={{ top: mv, right: 10, bottom: mv, left: ml - 1 }}
        data={[{ v: 0, y: 0 }, { v: 1, y: max }]}>
        <defs>
          <linearGradient id={id} x1="0" y1="1" x2="0" y2="0">
            {stops.map(s => <stop key={s.o} offset={s.o} stopColor={s.c} />)}
          </linearGradient>
        </defs>
        <XAxis type="number" dataKey="v" domain={[0, 1]} hide />
        <YAxis type="number" dataKey="y" domain={[0, max]} ticks={ticks} interval={0} width={1} tickSize={0} tickMargin={0}
          tickLine={false} axisLine={false} tick={barTick} />
        <ReferenceArea x1={0} x2={1} y1={0} y2={max} fill={`url(#${id})`} fillOpacity={1} stroke={FRAME} strokeWidth={1.2} />
      </ComposedChart>
    </div>
  )
}

export default function App() {
  return (
    <div style={{ position: 'absolute', left: 0, top: 0, width: 979, height: 1060, background: '#fff' }}>
      <Panel top={0} height={520} margin={{ top: 23, right: 88, bottom: 91, left: 124 }} yMax={0.6}
        yTicks={topYTicks} yLabels={topYLabels} sparse={topSparse} dense={topDense} grays={topGray}
        tickDy={41} titleDy={76} sideLabel="GPS #" sideX={957} sideSize={26} />
      <Panel top={540} height={520} margin={{ top: 32, right: 90, bottom: 83, left: 124 }} yMax={0.4}
        yTicks={bottomYTicks} yLabels={bottomYLabels} sparse={bottomSparse} dense={bottomDense} grays={bottomGray}
        tickDy={37} titleDy={75} sideLabel="Dep(deg)" sideX={966} sideSize={25} />
      <ColorBar left={941} top={24} width={17} height={404} max={GPS_MAX} ticks={gpsTicks} labels={gpsLabels} stops={jetStops} id="jetBar" />
      <ColorBar left={939} top={573} width={18} height={403} max={DEP_MAX} ticks={depTicks} labels={depLabels} stops={grayStops} id="grayBar" />
    </div>
  )
}
